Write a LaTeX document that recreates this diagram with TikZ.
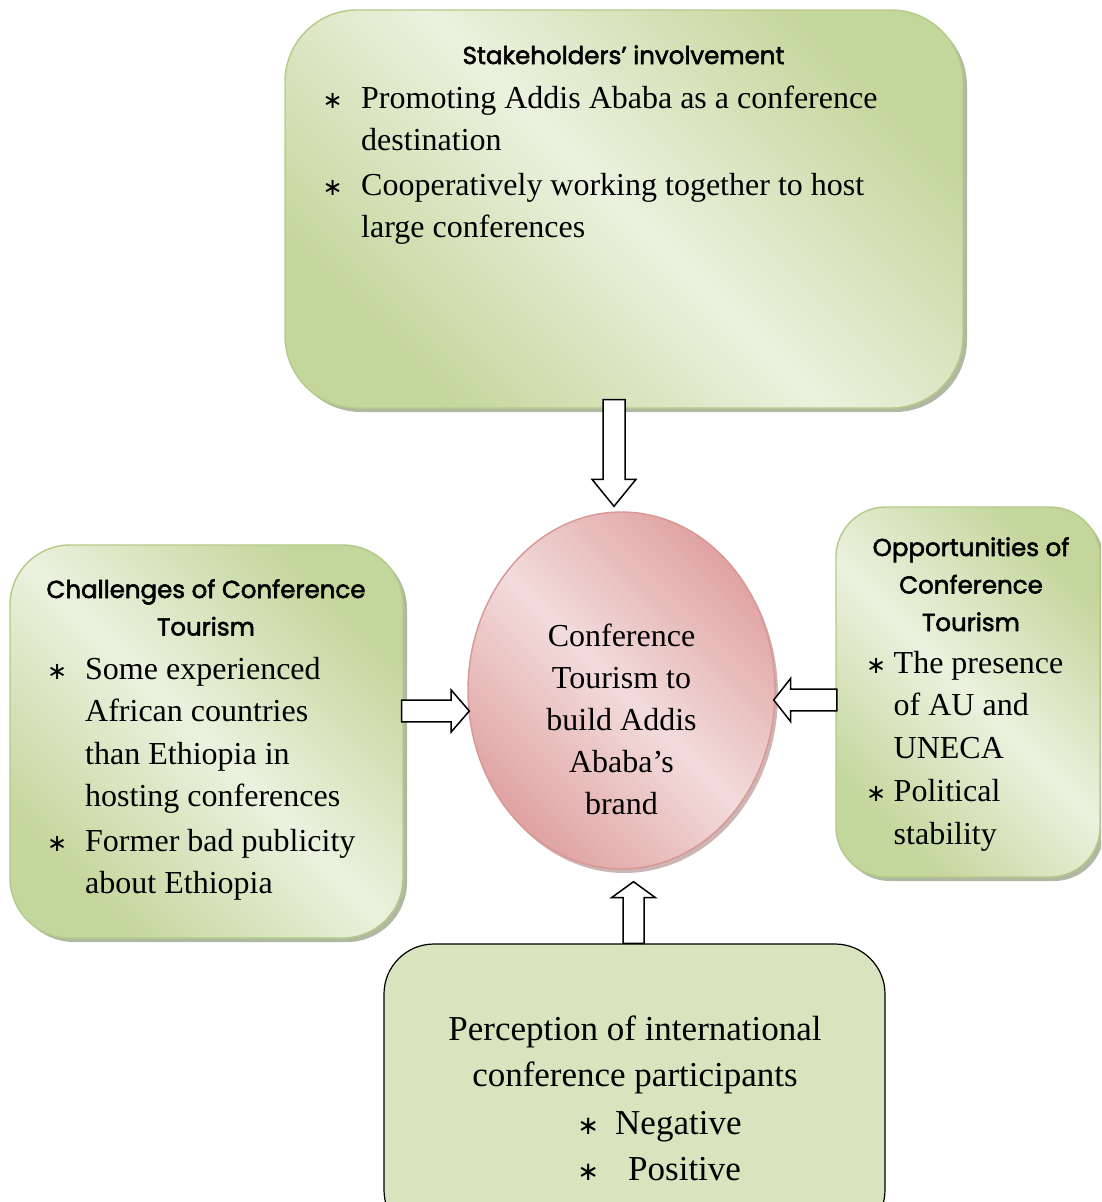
\documentclass[tikz,border=0pt]{standalone}
\usepackage{fontspec}
\setmainfont{Liberation Serif}
\newfontfamily\headfont[FakeBold=2.2]{Poppins}
\newfontfamily\symfont{DejaVu Sans}
\usetikzlibrary{calc,shadows,shapes.geometric}

\definecolor{gdark}{HTML}{C3D69B}
\definecolor{glight}{HTML}{EBF1DE}
\definecolor{gborder}{HTML}{B4CB87}
\definecolor{gfill}{HTML}{D7E4BD}
\definecolor{pdark}{HTML}{DFA3A2}
\definecolor{plight}{HTML}{F2DCDB}
\definecolor{pborder}{HTML}{D99694}
\definecolor{shadowc}{HTML}{8E9A7A}
\definecolor{pshadowc}{HTML}{A98584}

\newcommand\bul[2][24]{\makebox[#2][l]{\makebox[0pt]{\symfont\fontsize{#1}{#1}\selectfont ∗}}}

\newcommand\blockarrow[5]{%
  \path ($(#2)!#5!(#1)$) coordinate (ba-b);
  \draw[barrow] ($(#1)!#3!90:(#2)$) -- ($(ba-b)!#3!-90:(#1)$) -- ($(ba-b)!#4!-90:(#1)$)
    -- (#2) -- ($(ba-b)!#4!90:(#1)$) -- ($(ba-b)!#3!90:(#1)$) -- ($(#1)!#3!-90:(#2)$) -- cycle;
}

\begin{document}
\begin{tikzpicture}[x=1pt,y=-1pt,
  gbox/.style={rectangle, draw=gborder, line width=1.4pt,
    top color=gdark, bottom color=gdark, middle color=glight, shading angle=-45,
    drop shadow={shadow xshift=4pt, shadow yshift=-4pt, fill=shadowc, opacity=0.7},
    inner sep=0pt},
  pbox/.style={rectangle, draw=black, line width=1.2pt, fill=gfill, inner sep=0pt},
  brandshape/.style={ellipse, draw=pborder, line width=1.4pt,
    top color=pdark, bottom color=pdark, middle color=plight, shading angle=-45,
    drop shadow={shadow xshift=3pt, shadow yshift=-4pt, fill=pshadowc, opacity=0.6},
    inner sep=0pt},
  head/.style={inner sep=0pt, anchor=base, font=\headfont\fontsize{24.5}{37.5}\selectfont},
  lst/.style={inner sep=0pt, anchor=base west, font=\fontsize{32}{42.5}\selectfont},
  ctext/.style={inner sep=0pt, anchor=base, font=\fontsize{32}{42}\selectfont},
  btext/.style={inner sep=0pt, font=\fontsize{35}{46.5}\selectfont},
  barrow/.style={draw=black, fill=white, line width=1.5pt, line join=miter}
]
\useasboundingbox (0,0) rectangle (1101,1202);
\clip (0,0) rectangle (1101,1202);
\fill[white] (0,0) rectangle (1101,1202);

% boxes
\node[gbox, rounded corners=72pt, minimum width=678pt, minimum height=398pt] (stake) at (624,209) {};
\node[gbox, rounded corners=60pt, minimum width=393pt, minimum height=393pt] (chal) at (206.5,741.5) {};
\node[gbox, rounded corners=50pt, minimum width=264pt, minimum height=370pt] (opp) at (968,692) {};
\node[pbox, rounded corners=50pt, minimum width=501pt, minimum height=296pt] (perc) at (634.5,1092) {};
\node[brandshape, minimum width=307pt, minimum height=357pt] (brand) at (621.5,690.5) {};

% texts: top box
\node[head] (stakehead) at (623.5,64) {Stakeholders’ involvement};
\node[lst] (stakelist) at (332.5,108) {\begin{tabular}[t]{@{}l@{}}
\bul{28.5pt}Promoting Addis Ababa as a conference\\
\hspace*{28.5pt}destination\\[2pt]
\bul{28.5pt}Cooperatively working together to host\\
\hspace*{28.5pt}large conferences
\end{tabular}};

% left box
\node[head] (chalhead) at (206,598) {\begin{tabular}[t]{@{}c@{}}Challenges of Conference\\Tourism\end{tabular}};
\node[lst] (challist) at (57,679) {\begin{tabular}[t]{@{}l@{}}
\bul{28pt}Some experienced\\
\hspace*{28pt}African countries\\
\hspace*{28pt}than Ethiopia in\\
\hspace*{28pt}hosting conferences\\[2pt]
\bul{28pt}Former bad publicity\\
\hspace*{28pt}about Ethiopia
\end{tabular}};

% right box
\node[head] (opphead) at (971,556) {\begin{tabular}[t]{@{}c@{}}Opportunities of\\Conference\\Tourism\end{tabular}};
\node[lst] (opplist) at (876,673) {\begin{tabular}[t]{@{}l@{}}
\bul{17.5pt}The presence\\
\hspace*{17.5pt}of AU and\\
\hspace*{17.5pt}UNECA\\[1pt]
\bul{17.5pt}Political\\
\hspace*{17.5pt}stability
\end{tabular}};

% centre
\node[ctext] (brandtext) at (621.5,646) {\begin{tabular}[t]{@{}c@{}}Conference\\Tourism to\\build Addis\\Ababa’s\\brand\end{tabular}};

% bottom box
\node[btext, anchor=base] (perctext) at (635,1040) {\begin{tabular}[t]{@{}c@{}}Perception of international\\conference participants\end{tabular}};
\node[btext, anchor=base west] (perclist) at (588,1134) {\begin{tabular}[t]{@{}l@{}}
\bul[26]{27pt}Negative\\
\bul[26]{40pt}Positive
\end{tabular}};

% block arrows
\coordinate (a1s) at ($(stake.south)+(-10,-9)$);
\coordinate (a1e) at ($(brand.north)+(-7.5,-5)$);
\blockarrow{a1s}{a1e}{11pt}{22pt}{27pt}

\coordinate (a2s) at ($(chal.east)+(-2,-30.5)$);
\coordinate (a2e) at ($(brand.west)+(2,20.5)$);
\blockarrow{a2s}{a2e}{10.8pt}{21.2pt}{18.3pt}

\coordinate (a3s) at ($(opp.west)+(1.5,8)$);
\coordinate (a3e) at ($(brand.east)+(-2,9.5)$);
\blockarrow{a3s}{a3e}{10.8pt}{21.7pt}{17pt}

\coordinate (a4s) at ($(perc.north)+(-1,0)$);
\coordinate (a4e) at ($(brand.south)+(12,12)$);
\blockarrow{a4s}{a4e}{10.5pt}{22pt}{16pt}
\end{tikzpicture}
\end{document}
